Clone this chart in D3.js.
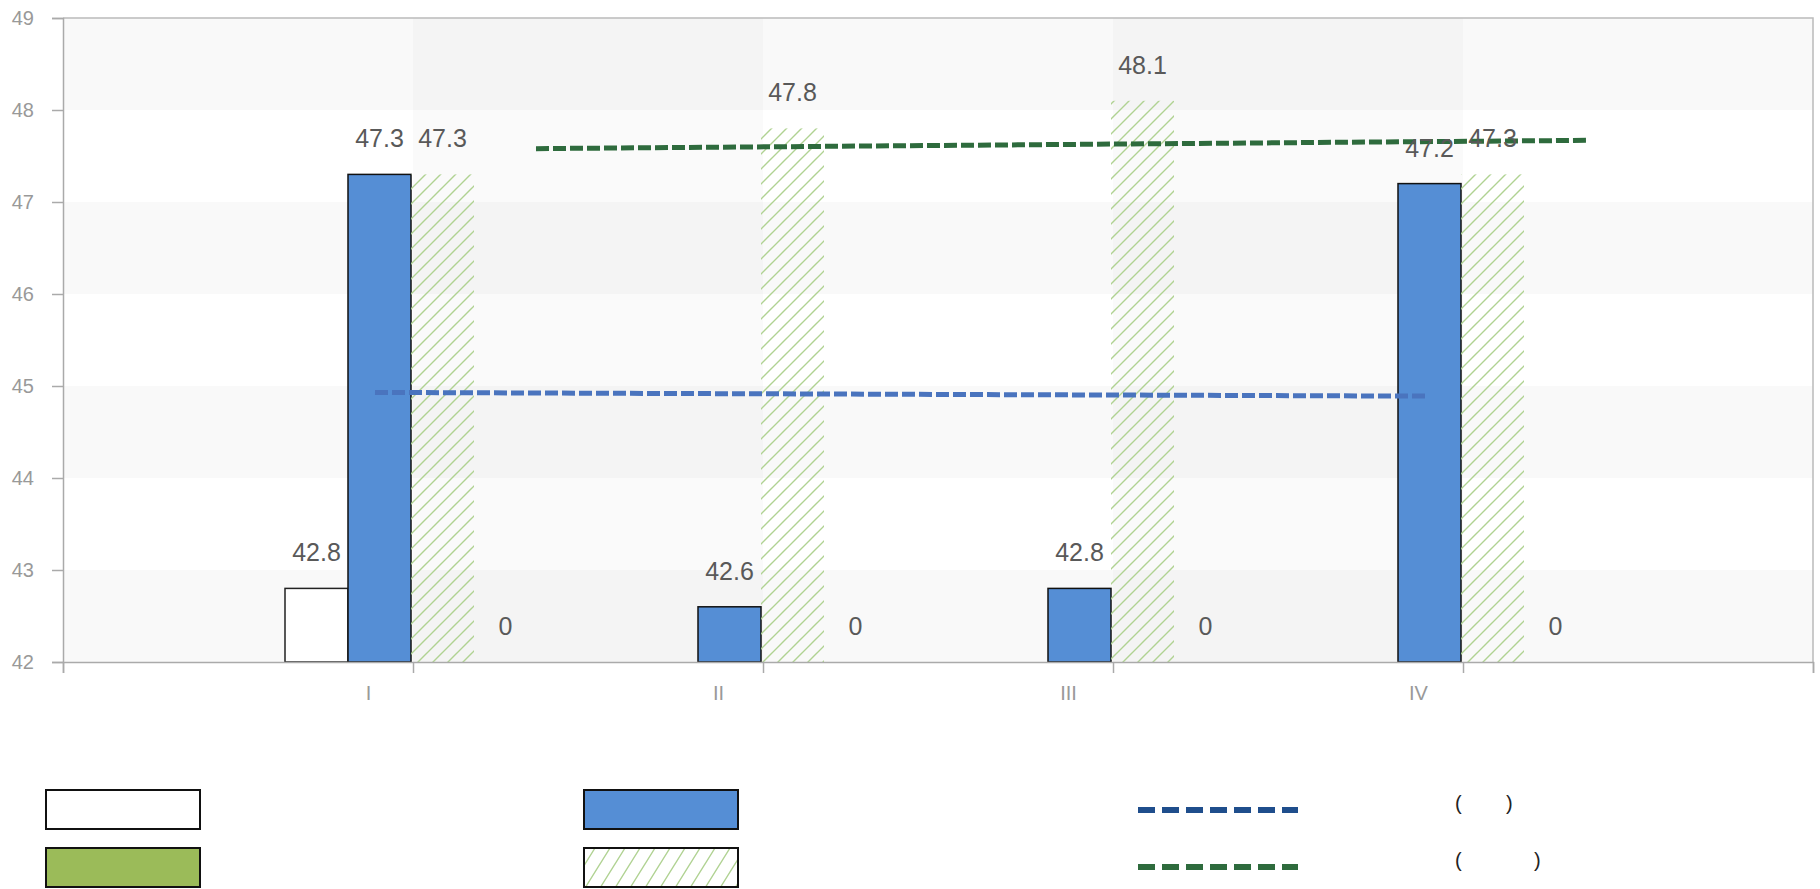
<!DOCTYPE html>
<html>
<head>
<meta charset="utf-8">
<script src="https://cdn.jsdelivr.net/npm/d3@7"></script>
<style>
  body { margin: 0; background: #fff; }
  text { font-family: "Liberation Sans", Arial, sans-serif; }
</style>
</head>
<body>
<div id="chart"></div>
<script>
// data
var categories = ["I", "II", "III", "IV"];
var seriesWhite = [42.8, null, null, null];
var seriesBlue = [47.3, 42.6, 42.8, 47.2];
var seriesHatch = [47.3, 47.8, 48.1, 47.3];
var seriesGreen = [0, 0, 0, 0];
var blueTrend = [44.93, 44.89];   // start (I), end (IV)
var greenTrend = [47.58, 47.67];
var yTicks = [42, 43, 44, 45, 46, 47, 48, 49];
var legendLabels = ["", "", "", "", "(        )", "(             )"];

function init() {
    var w = 1820, h = 889;
    var left = 63, right = 1813, top = 18, bottom = 662;

    var svg = d3.select("#chart").append("svg")
        .attr("width", w).attr("height", h);

    var defs = svg.append("defs");
    defs.append("pattern")
        .attr("id", "hatch")
        .attr("patternUnits", "userSpaceOnUse")
        .attr("width", 15).attr("height", 15)
        .append("path")
        .attr("d", "M-2,2 L2,-2 M0,15 L15,0 M13,17 L17,13")
        .attr("stroke", "#b0d292")
        .attr("stroke-width", 1.4);
    defs.append("pattern")
        .attr("id", "hatchLegend")
        .attr("patternUnits", "userSpaceOnUse")
        .attr("width", 15).attr("height", 24)
        .append("path")
        .attr("d", "M-2,3 L2,-3 M0,24 L15,0 M13,27 L17,21")
        .attr("stroke", "#b0d292")
        .attr("stroke-width", 1.4);

    // Scales
    var x = d3.scaleLinear()
        .domain([0, categories.length + 1])
        .range([left, right]);
    var y = d3.scaleLinear()
        .domain([d3.min(yTicks), d3.max(yTicks)])
        .range([bottom, top]);
    var series = [
        { key: "white", values: seriesWhite, fill: "#ffffff", stroke: "#222" },
        { key: "blue", values: seriesBlue, fill: "#558ed5", stroke: "#111" },
        { key: "hatch", values: seriesHatch, fill: "url(#hatch)", stroke: "none" },
        { key: "green", values: seriesGreen, fill: "#9bbb59", stroke: "#111" }
    ];
    var inner = d3.scaleBand()
        .domain(series.map(s => s.key))
        .range([-128, 124]);

    // Background stripes
    svg.append("g").selectAll("rect")
        .data(yTicks.slice(0, -1).filter((d, i) => i % 2 === 0))
        .join("rect")
        .attr("x", left).attr("width", right - left)
        .attr("y", d => y(d + 1))
        .attr("height", d => y(d) - y(d + 1))
        .attr("fill", "rgba(0,0,0,0.024)");
    svg.append("g").selectAll("rect")
        .data([1, 3])
        .join("rect")
        .attr("x", d => x(d)).attr("width", d => x(d + 1) - x(d))
        .attr("y", top).attr("height", bottom - top)
        .attr("fill", "rgba(0,0,0,0.02)");

    // Bars
    var groups = svg.append("g").selectAll("g")
        .data(series)
        .join("g");
    groups.selectAll("rect")
        .data(s => s.values.map((v, i) => ({ s: s, v: v, i: i })).filter(d => d.v !== null && d.v > y.domain()[0]))
        .join("rect")
        .attr("x", d => x(d.i + 1) + inner(d.s.key))
        .attr("width", inner.bandwidth())
        .attr("y", d => y(d.v))
        .attr("height", d => y.range()[0] - y(d.v))
        .attr("fill", d => d.s.fill)
        .attr("stroke", d => d.s.stroke)
        .attr("stroke-width", 1.5);

    // Frame (top, right)
    svg.append("path")
        .attr("d", `M${left},${top}H${right}V${bottom}`)
        .attr("fill", "none")
        .attr("stroke", "#bbb")
        .attr("stroke-width", 1.5);

    // Axes
    var xAxis = d3.axisBottom(x)
        .tickValues(d3.range(0, categories.length + 2))
        .tickFormat(i => categories[i - 1] || "")
        .tickSize(11).tickPadding(13);
    var gx = svg.append("g")
        .attr("transform", `translate(0,${bottom})`)
        .call(xAxis);
    gx.selectAll("text").attr("dx", -45);

    var yAxis = d3.axisLeft(y)
        .tickValues(yTicks)
        .tickFormat(d3.format("d"))
        .tickSize(11).tickPadding(18);
    var gy = svg.append("g")
        .attr("transform", `translate(${left},0)`)
        .call(yAxis);

    [gx, gy].forEach(g => {
        g.select(".domain").attr("stroke", "#aaa").attr("stroke-width", 1.5);
        g.selectAll(".tick line").attr("stroke", "#aaa").attr("stroke-width", 1.5);
        g.selectAll(".tick text")
            .attr("fill", "#999")
            .attr("font-size", "20px")
            .attr("font-family", "Liberation Sans, Arial, sans-serif");
    });

    // Trend lines
    var line = d3.line().x(d => d[0]).y(d => y(d[1]));
    svg.append("path")
        .attr("d", line([[x(1) - 38, blueTrend[0]], [x(categories.length) - 38, blueTrend[1]]]))
        .attr("stroke", "#4a74be")
        .attr("stroke-width", 5)
        .attr("stroke-dasharray", "13,4")
        .attr("fill", "none");
    svg.append("path")
        .attr("d", line([[x(1) + 123, greenTrend[0]], [x(categories.length) + 123, greenTrend[1]]]))
        .attr("stroke", "#2e6b3d")
        .attr("stroke-width", 5)
        .attr("stroke-dasharray", "13,4")
        .attr("fill", "none");

    // Value labels
    var labels = [];
    series.forEach(s => s.values.forEach((v, i) => {
        if (v !== null) labels.push({ s: s, v: v, i: i });
    }));
    svg.append("g").selectAll("text")
        .data(labels)
        .join("text")
        .attr("x", d => x(d.i + 1) + inner(d.s.key) + inner.bandwidth() / 2)
        .attr("y", d => y(Math.max(d.v, y.domain()[0])) - 27)
        .attr("text-anchor", "middle")
        .attr("font-size", "25px")
        .attr("fill", "#595959")
        .text(d => d.v);

    // Legend
    var legend = svg.append("g");
    var boxes = [
        { x: 46, y: 790, fill: "#ffffff" },
        { x: 46, y: 848, fill: "#9bbb59" },
        { x: 584, y: 790, fill: "#558ed5" },
        { x: 584, y: 848, fill: "url(#hatchLegend)" }
    ];
    legend.selectAll("rect")
        .data(boxes)
        .join("rect")
        .attr("x", d => d.x).attr("y", d => d.y)
        .attr("width", 154).attr("height", 39)
        .attr("fill", d => d.fill)
        .attr("stroke", "#111")
        .attr("stroke-width", 2);
    var legendLines = [
        { y: 810, color: "#1f4e8c", label: legendLabels[4] },
        { y: 867, color: "#2e6b3d", label: legendLabels[5] }
    ];
    legend.selectAll("line")
        .data(legendLines)
        .join("line")
        .attr("x1", 1138).attr("x2", 1298)
        .attr("y1", d => d.y).attr("y2", d => d.y)
        .attr("stroke", d => d.color)
        .attr("stroke-width", 6)
        .attr("stroke-dasharray", "17,7");
    legend.selectAll("text")
        .data(legendLines)
        .join("text")
        .attr("x", 1455)
        .attr("y", d => d.y)
        .attr("font-size", "20px")
        .attr("fill", "#222")
        .style("white-space", "pre")
        .text(d => d.label);
}

window.onload = init;
</script>
</body>
</html>
